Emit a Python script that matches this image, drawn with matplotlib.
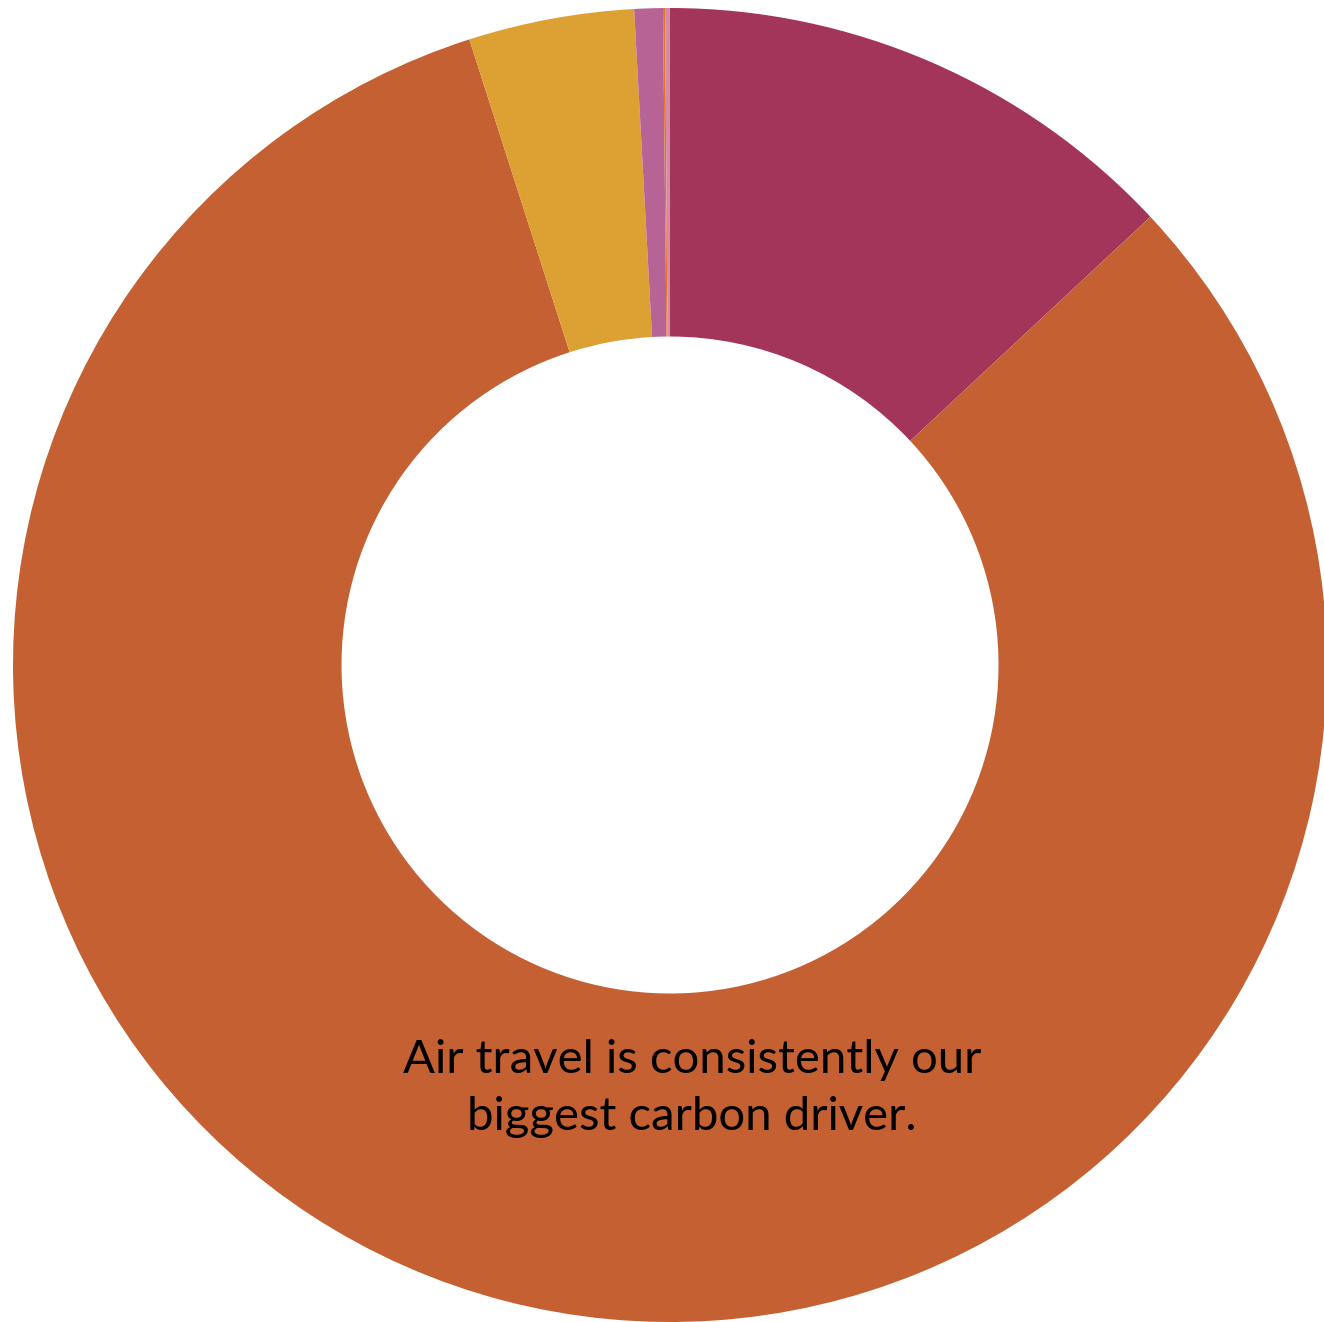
import matplotlib
matplotlib.use("Agg")
import matplotlib.pyplot as plt

# slice shares (clockwise from 12 o'clock)
labels = ["Hotel", "Air travel", "Ground", "Meals", "Other", "Misc"]
shares = [13.05, 82.0, 4.07, 0.7, 0.05, 0.12]
colors = ["#A3345A", "#C46031", "#DDA033", "#B86396", "#E07525", "#D68AA6"]
note = "Air travel is consistently our\nbiggest carbon driver."

fig = plt.figure(figsize=(13.24, 13.22), dpi=100)
ax = fig.add_axes([0, 0, 1, 1])

ax.pie(shares, colors=colors, startangle=90, counterclock=False,
       radius=1.0, wedgeprops=dict(width=0.5, linewidth=0))

ax.text(0.033, -0.645, note, ha="center", va="center", fontsize=34,
        family="Lato", color="#000000", linespacing=1.45)

ax.set_xlim(-1.0198, 0.9954)
ax.set_ylim(-1.0, 1.0122)
ax.set_aspect("auto")
ax.axis("off")

fig.savefig("out.png", dpi=100, facecolor="white")
